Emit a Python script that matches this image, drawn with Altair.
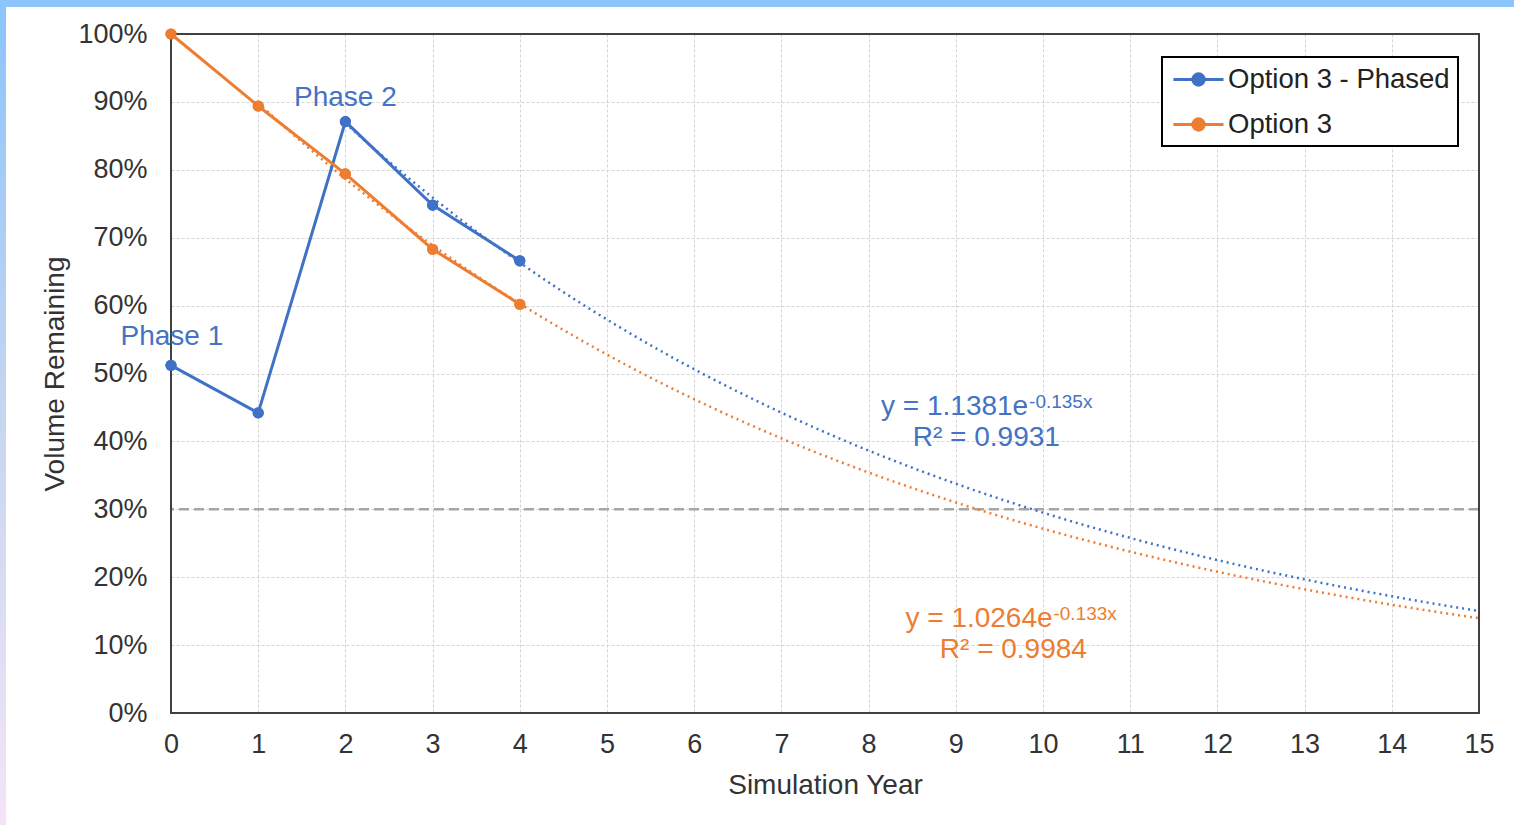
import altair as alt
import pandas as pd

# ---- data ----
years = [0, 1, 2, 3, 4]
phased = [0.512, 0.442, 0.871, 0.748, 0.666]      # Option 3 - Phased
option3 = [1.000, 0.894, 0.794, 0.683, 0.602]     # Option 3
series_names = ["Option 3 - Phased", "Option 3"]
x_ticks = list(range(0, 16))
y_ticks = [i / 10 for i in range(0, 11)]
threshold = 0.30

# exponential trendlines y = a * e^(b x), as printed on the chart
trend_a = [1.1381, 1.0264]
trend_b = [-0.135, -0.133]
trend_r2 = [0.9931, 0.9984]
trend_from = [2, 1]
trend_to = [15, 15]

BLUE = "#3f72c6"
ORANGE = "#ed7d31"
TXT_BLUE = "#4472c4"
FONT = "Liberation Sans"
TXT = "#333333"

rows = []
for yr, v in zip(years, phased):
    rows.append({"year": yr, "value": v, "series": series_names[0]})
for yr, v in zip(years, option3):
    rows.append({"year": yr, "value": v, "series": series_names[1]})
df = pd.DataFrame(rows)
one = pd.DataFrame({"k": [0]})

W, H = 1308, 679
PAD = {"left": 171, "top": 34, "right": 35, "bottom": 112}

xs = alt.Scale(domain=[0, 15], nice=False, zero=False)
ys = alt.Scale(domain=[0, 1], nice=False)
cscale = alt.Scale(domain=series_names, range=[BLUE, ORANGE])

sym_path = ("M -0.85 0 L 3.0 0 "
            "M 0.64 0 A 0.44 0.44 0 1 0 1.52 0 A 0.44 0.44 0 1 0 0.64 0 Z")

legend = alt.Legend(
    title=None, orient="none", legendX=991, legendY=23,
    strokeColor="black", fillColor="white", padding=8,
    labelFont=FONT, labelFontSize=27.5, labelColor="#222222", labelLimit=500,
    labelOffset=29, rowPadding=17,
    symbolType=sym_path, symbolSize=676, symbolStrokeWidth=3,
    symbolOpacity=1,
)

x_enc = alt.X("year:Q", scale=xs, axis=alt.Axis(
    values=x_ticks, title="Simulation Year", format="d", labelFlush=False))
y_enc = alt.Y("value:Q", scale=ys, axis=alt.Axis(
    values=y_ticks, format=".0%", title="Volume Remaining", labelFlush=False))

# decorative frame bands (top blue, left gradient)
top_band = alt.Chart(one).mark_rect(color="#8cc4fc").encode(
    x=alt.value(-171), x2=alt.value(1343), y=alt.value(-34), y2=alt.value(-27))
left_band = alt.Chart(one).mark_rect(
    fill=alt.Gradient(gradient="linear",
                      stops=[alt.GradientStop(color="#8cc4fc", offset=0),
                             alt.GradientStop(color="#c6d6f0", offset=0.5),
                             alt.GradientStop(color="#f4e4f6", offset=1)],
                      x1=0, x2=0, y1=0, y2=1)).encode(
    x=alt.value(-171), x2=alt.value(-165), y=alt.value(-27), y2=alt.value(791))

# plot-area frame drawn above the grid
frame = alt.Chart(one).mark_rect(
    fillOpacity=0, stroke="#404040", strokeWidth=2).encode(
    x=alt.value(0), x2=alt.value(W), y=alt.value(0), y2=alt.value(H))

rule30 = alt.Chart(one).transform_calculate(t=str(threshold)).mark_rule(
    color="#a6a6a6", strokeWidth=2.5, strokeDash=[10, 5]
).encode(y=alt.Y("t:Q", scale=ys))


def trend(i, color):
    return alt.Chart(alt.sequence(trend_from[i], trend_to[i] + 0.001, 0.1, as_="year")
                     ).transform_calculate(
        value=f"{trend_a[i]} * exp({trend_b[i]} * datum.year)"
    ).mark_line(color=color, strokeWidth=2.5, strokeDash=[2, 4], clip=True
                ).encode(x=alt.X("year:Q", scale=xs), y=alt.Y("value:Q", scale=ys))


trend_blue = trend(0, BLUE)
trend_orange = trend(1, ORANGE)

color_enc = alt.Color("series:N", scale=cscale, sort=series_names, legend=legend)

pts = alt.Chart(df).mark_point(filled=True, size=125, opacity=1).encode(
    x=x_enc, y=y_enc, color=color_enc)

lines = alt.Chart(df).mark_line(strokeWidth=3).encode(
    x=x_enc, y=y_enc, color=color_enc, order=alt.Order("year:Q"))


def label(text, x, y, color, size=28, align="center"):
    return alt.Chart(one).transform_calculate(px=str(x), py=str(y)).mark_text(
        text=text, font=FONT, fontSize=size, color=color, align=align,
        baseline="middle"
    ).encode(x=alt.X("px:Q", scale=xs), y=alt.Y("py:Q", scale=ys))


annots = [
    label("Phase 1", 0.01, 0.554, TXT_BLUE),
    label("Phase 2", 2.0, 0.906, TXT_BLUE),
    label(f"y = {trend_a[0]}e", 9.83, 0.451, TXT_BLUE, align="right"),
    label(f"{trend_b[0]}x", 9.84, 0.458, TXT_BLUE, size=19, align="left"),
    label(f"R² = {trend_r2[0]}", 9.35, 0.405, TXT_BLUE),
    label(f"y = {trend_a[1]}e", 10.11, 0.139, ORANGE, align="right"),
    label(f"{trend_b[1]}x", 10.12, 0.146, ORANGE, size=19, align="left"),
    label(f"R² = {trend_r2[1]}", 9.66, 0.093, ORANGE),
]

chart = alt.layer(
    pts, top_band, left_band, rule30, trend_blue, trend_orange, frame,
    lines, pts, *annots
).properties(
    width=W, height=H, padding=PAD, autosize=alt.AutoSizeParams(type="none"),
    background="white"
).configure_view(
    strokeWidth=0, fill="white"
).configure_legend(
    strokeWidth=2
).configure_axis(
    domain=False, ticks=False, tickSize=0,
    grid=True, gridColor="#d4d4d4", gridDash=[3, 2], gridWidth=1,
    labelFont=FONT, labelFontSize=27, labelColor=TXT,
    titleFont=FONT, titleFontSize=28, titleColor=TXT, titleFontWeight="normal",
).configure_axisX(
    labelPadding=18, titlePadding=14
).configure_axisY(
    labelPadding=24, titlePadding=8
)

chart.save("out.html", embed_options={"renderer": "svg", "actions": False})
